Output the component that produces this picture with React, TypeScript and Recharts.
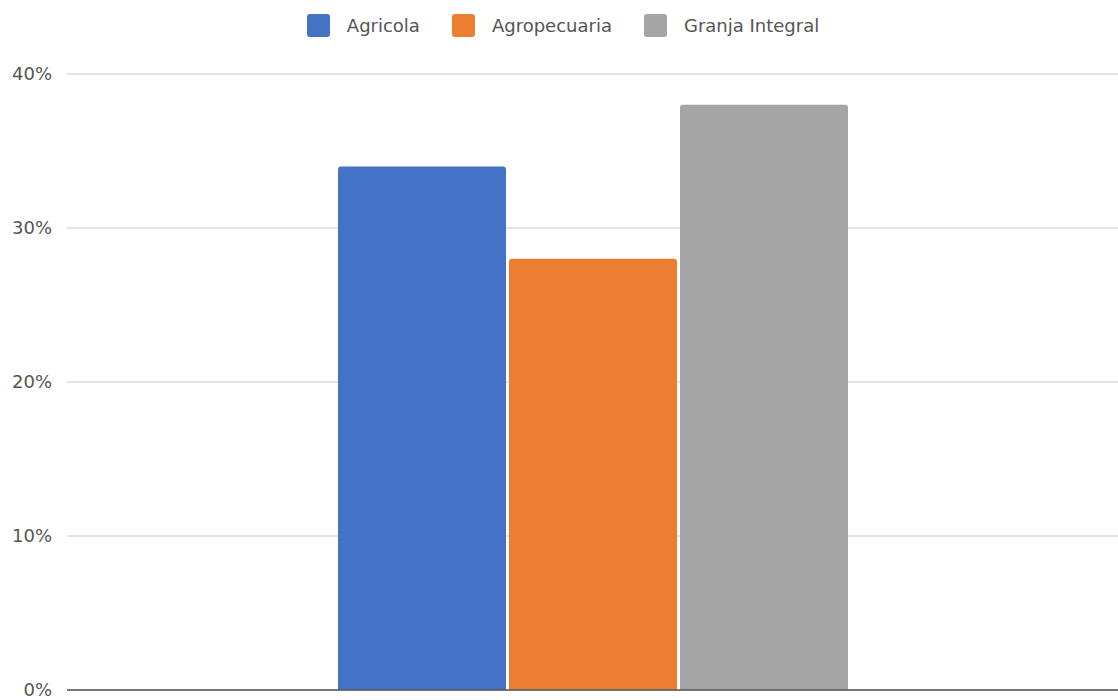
import { BarChart, Bar, XAxis, YAxis, CartesianGrid } from 'recharts'

const categories = ['Tipo']
const seriesNames = ['Agricola', 'Agropecuaria', 'Granja Integral']
const seriesValues = [0.34, 0.28, 0.38]
const colors = ['#4472C4', '#ED7D31', '#A5A5A5']
const yTicks = [0, 0.1, 0.2, 0.3, 0.4]

const data = categories.map((c) => {
  const row: any = { name: c }
  seriesNames.forEach((s, i) => {
    row[s] = seriesValues[i]
  })
  return row
})

const font = '"DejaVu Sans", sans-serif'

function ChartLegend() {
  return (
    <div
      style={{
        position: 'absolute',
        top: 14,
        left: 8,
        width: 1110,
        height: 23,
        display: 'flex',
        justifyContent: 'center',
        alignItems: 'center',
        fontFamily: font,
        fontSize: 18,
        color: '#555',
      }}
    >
      {seriesNames.map((s, i) => (
        <div key={s} style={{ display: 'flex', alignItems: 'center', marginRight: i < seriesNames.length - 1 ? 32 : 0 }}>
          <span style={{ width: 23, height: 23, background: colors[i], borderRadius: 3, display: 'inline-block', marginRight: 17 }} />
          <span>{s}</span>
        </div>
      ))}
    </div>
  )
}

export default function App() {
  return (
    <div style={{ position: 'absolute', left: 0, top: 0, width: 1118, height: 700, background: '#fff' }}>
      <BarChart
        width={1118}
        height={700}
        data={data}
        margin={{ top: 74, right: 0, left: 0, bottom: 9 }}
        barSize={168}
        barGap={3}
      >
        <CartesianGrid vertical={false} stroke="#DADADA" strokeWidth={1.5} />
        <XAxis dataKey="name" tick={false} tickLine={false} height={1} axisLine={{ stroke: '#555', strokeWidth: 1.5 }} />
        <YAxis
          width={67}
          domain={[0, 0.4]}
          ticks={yTicks}
          interval={0}
          axisLine={false}
          tickLine={false}
          tickMargin={9}
          tick={{ fontSize: 18, fill: '#555', fontFamily: font }}
          tickFormatter={(v: number) => `${Math.round(v * 100)}%`}
        />
        {seriesNames.map((s, i) => (
          <Bar key={s} dataKey={s} fill={colors[i]} radius={[3, 3, 0, 0]} isAnimationActive={false} />
        ))}
      </BarChart>
      <ChartLegend />
    </div>
  )
}
